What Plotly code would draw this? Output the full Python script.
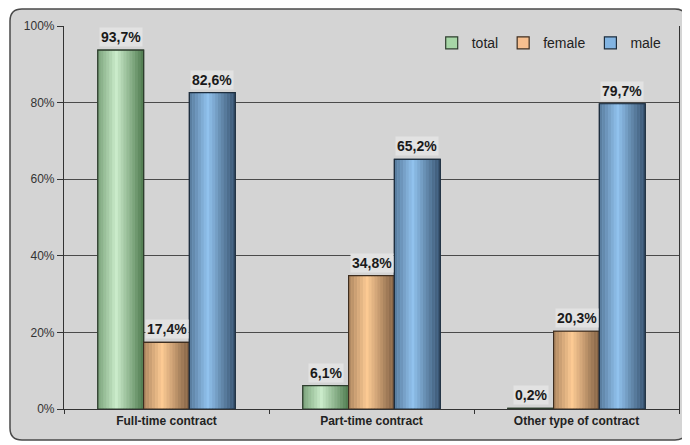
import plotly.graph_objects as go

categories = ["Full-time contract", "Part-time contract", "Other type of contract"]
series_names = ["total", "female", "male"]
total = [93.7, 6.1, 0.2]
female = [17.4, 34.8, 20.3]
male = [82.6, 65.2, 79.7]
y_ticks = [0, 20, 40, 60, 80, 100]

# (dark edge, light highlight, outline) per series
shades = [
    ("#4f7a4f", "#cbeccb", "#2e3e2e"),
    ("#7e5e42", "#fdcb94", "#3e2e20"),
    ("#35506c", "#92c3ee", "#1e2e3e"),
]
mid_colors = ["#a6d6a6", "#f7bf8f", "#82b4e2"]
BG = "#d4d4d4"
FONT = "Liberation Sans, Arial"

# the page body adds an 8px margin, so the figure is drawn 8px smaller
OFF = 8
W, H = 690 - OFF, 445 - OFF
ml, mr, mt, mb = 64 - OFF, 11, 26 - OFF, 36
bargap = 0.33
n_strips = 16


def hex_rgb(h):
    h = h.lstrip("#")
    return [int(h[i:i + 2], 16) for i in (0, 2, 4)]


def mix(a, b, t):
    a, b = hex_rgb(a), hex_rgb(b)
    return "rgb({},{},{})".format(*[round(x + (y - x) * t) for x, y in zip(a, b)])


def profile(t):
    # cylinder-like shading: a bit dark on the left, bright at 40%, dark on the right
    if t < 0.4:
        return 0.35 + 0.65 * t / 0.4
    return 1 - (t - 0.4) / 0.6


bw = (1 - bargap) / len(series_names)
sw = bw / n_strips

fig = go.Figure()
for i, (name, vals) in enumerate(zip(series_names, [total, female, male])):
    dark, light, line_c = shades[i]
    left = -(1 - bargap) / 2 + i * bw
    fig.add_trace(go.Bar(
        x=categories, y=vals, name=name, offset=left, width=bw,
        marker=dict(color=mid_colors[i], line=dict(color=line_c, width=1.2)),
    ))
    for j in range(n_strips):
        t = (j + 0.5) / n_strips
        fig.add_trace(go.Bar(
            x=categories, y=vals, offset=left + j * sw, width=sw * 1.08,
            marker=dict(color=mix(dark, light, profile(t)), line=dict(width=0)),
            showlegend=False, hoverinfo="skip",
        ))
    fig.add_trace(go.Bar(
        x=categories, y=vals, offset=left, width=bw,
        marker=dict(color="rgba(0,0,0,0)", line=dict(color=line_c, width=1.2)),
        showlegend=False, hoverinfo="skip",
    ))

# value labels with a light box behind them
plot_w = W - ml - mr
bw_px = plot_w / len(categories) * bw
for i, vals in enumerate([total, female, male]):
    for cat, v in zip(categories, vals):
        fig.add_annotation(
            x=cat, y=v, text="<b>" + f"{v:.1f}".replace(".", ",") + "%</b>",
            showarrow=False, yanchor="bottom", yshift=3,
            xshift=(i - 1) * bw_px,
            bgcolor="#e2e2e2", borderpad=1,
            font=dict(family=FONT, size=14, color="#1a1a1a"),
        )


# rounded outer frame (paper coords measured from the plot area)
def px_x(p):
    return (p - ml) / plot_w


def px_y(p):
    return (H - mb - p) / (H - mt - mb)


x0, x1, y0, y1, r = 2, 679, 1, 432, 12
path = (f"M {px_x(x0 + r)} {px_y(y0)} L {px_x(x1 - r)} {px_y(y0)} "
        f"Q {px_x(x1)} {px_y(y0)} {px_x(x1)} {px_y(y0 + r)} "
        f"L {px_x(x1)} {px_y(y1 - r)} Q {px_x(x1)} {px_y(y1)} {px_x(x1 - r)} {px_y(y1)} "
        f"L {px_x(x0 + r)} {px_y(y1)} Q {px_x(x0)} {px_y(y1)} {px_x(x0)} {px_y(y1 - r)} "
        f"L {px_x(x0)} {px_y(y0 + r)} Q {px_x(x0)} {px_y(y0)} {px_x(x0 + r)} {px_y(y0)} Z")
fig.add_shape(type="path", path=path, xref="paper", yref="paper", layer="below",
              fillcolor=BG, line=dict(color="#4a4a4a", width=1.5))

fig.update_layout(
    width=W, height=H,
    margin=dict(l=ml, r=mr, t=mt, b=mb),
    paper_bgcolor="white",
    plot_bgcolor="rgba(0,0,0,0)",
    barmode="overlay",
    font=dict(family=FONT, color="#222"),
    legend=dict(orientation="h", x=0.98, xanchor="right", y=0.955, yanchor="middle",
                bgcolor="rgba(0,0,0,0)", font=dict(size=14, color="#222"),
                itemwidth=30, traceorder="normal"),
    showlegend=True,
)
fig.update_xaxes(
    tickvals=categories,
    ticktext=[f"<b>{c}</b>" for c in categories],
    tickfont=dict(size=12, color="#222"),
    showline=True, linecolor="#333", linewidth=1.2, mirror=False,
    ticks="outside", tickson="boundaries", ticklen=4, tickcolor="#333",
    showgrid=False,
)
fig.update_yaxes(
    range=[0, 100], tickvals=y_ticks, ticktext=[f"{t}%" for t in y_ticks],
    tickfont=dict(size=12, color="#333"),
    showline=True, linecolor="#333", linewidth=1.2, mirror=True,
    ticks="outside", ticklen=6, tickcolor="#333",
    showgrid=True, gridcolor="#4a4a4a", gridwidth=1,
    zeroline=False,
)

fig.write_html("out.html")
